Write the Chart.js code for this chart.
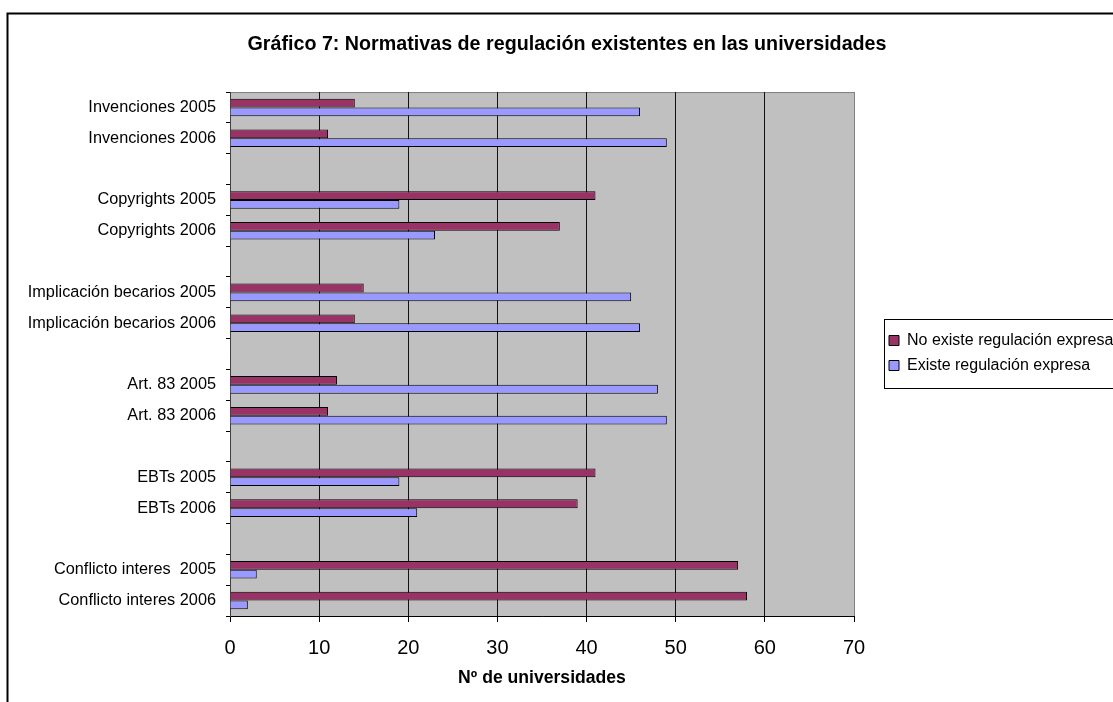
<!DOCTYPE html>
<html>
<head>
<meta charset="utf-8">
<script src="https://cdn.jsdelivr.net/npm/chart.js@4.4.1/dist/chart.umd.min.js"></script>
<style>
    html, body { margin: 0; padding: 0; background: #fff; overflow: hidden; }
    #wrap { position: relative; width: 1134px; height: 702px; }
    canvas { display: block; }
</style>
</head>
<body>
<div id="wrap"><canvas id="normChart" width="1134" height="702"></canvas></div>
<script>
// categories, top to bottom ('' = empty gap row between groups)
var categories = [
    'Invenciones 2005', 'Invenciones 2006', '',
    'Copyrights 2005', 'Copyrights 2006', '',
    'Implicación becarios 2005', 'Implicación becarios 2006', '',
    'Art. 83 2005', 'Art. 83 2006', '',
    'EBTs 2005', 'EBTs 2006', '',
    'Conflicto interes  2005', 'Conflicto interes 2006'
];
var noExisteArr = [14, 11, null, 41, 37, null, 15, 14, null, 12, 11, null, 41, 39, null, 57, 58];
var existeArr   = [46, 49, null, 19, 23, null, 45, 46, null, 48, 49, null, 19, 21, null, 3, 2];
var xTicks = [0, 10, 20, 30, 40, 50, 60, 70];

var FONT = "'Liberation Sans', Arial, sans-serif";

var framePlugin = {
    id: 'frame',
    beforeDraw: function(chart) {
        var ctx = chart.ctx;
        var a = chart.chartArea;
        ctx.save();
        ctx.fillStyle = '#fff';
        ctx.fillRect(0, 0, chart.width, chart.height);
        // outer chart border
        ctx.strokeStyle = '#000';
        ctx.lineWidth = 2;
        ctx.strokeRect(7.5, 13.5, chart.width + 20, chart.height + 20);
        // plot area
        ctx.fillStyle = '#c0c0c0';
        ctx.fillRect(a.left, a.top, a.right - a.left, a.bottom - a.top);
        ctx.strokeStyle = '#808080';
        ctx.lineWidth = 1;
        ctx.strokeRect(a.left + 0.5, a.top + 0.5, a.right - a.left, a.bottom - a.top);
        ctx.restore();
    },
    afterLayout: function(chart) {
        // title centred over the whole chart, legend placed right of the plot
        chart.titleBlock.left = 0;
        chart.titleBlock.right = 1134;
        var lg = chart.legend;
        var w = lg.width, h = lg.height;
        lg.left = 880;
        lg.right = 880 + w;
        lg.top = 323.5;
        lg.bottom = 323.5 + h;
    },
    afterDraw: function(chart) {
        var hb = chart.legend.legendHitBoxes;
        if (!hb || !hb.length) return;
        var ctx = chart.ctx;
        ctx.save();
        ctx.strokeStyle = '#000';
        ctx.lineWidth = 1;
        var top = hb[0].top - 13.5, bottom = hb[hb.length - 1].top + hb[hb.length - 1].height + 14.5;
        ctx.strokeRect(Math.round(hb[0].left - 5) + 0.5, Math.round(top) + 0.5, 300, Math.round(bottom - top));
        ctx.restore();
    }
};

new Chart('normChart', {
    type: 'bar',
    data: {
        labels: categories,
        datasets: [{
            label: 'No existe regulación expresa',
            data: noExisteArr,
            backgroundColor: '#993366',
            borderColor: '#000',
            borderWidth: 1,
            categoryPercentage: 0.57,
            barPercentage: 1.0
        }, {
            label: 'Existe regulación expresa',
            data: existeArr,
            backgroundColor: '#9999ff',
            borderColor: '#000',
            borderWidth: 1,
            categoryPercentage: 0.57,
            barPercentage: 1.0
        }]
    },
    options: {
        indexAxis: 'y',
        responsive: false,
        animation: false,
        devicePixelRatio: 1,
        layout: {padding: {left: 0, right: 280, top: 0, bottom: 12.8}},
        scales: {
            x: {
                min: 0,
                max: 70,
                afterBuildTicks: function(scale) {
                    scale.ticks = xTicks.map(function(v) { return {value: v}; });
                },
                afterFit: function(scale) { scale.height = 73.2; },
                ticks: {
                    color: '#000',
                    padding: 14,
                    font: {family: FONT, size: 20, lineHeight: 1.2}
                },
                grid: {
                    color: function(c) { return c.tick && c.tick.value === 70 ? '#808080' : '#111'; },
                    tickColor: '#000',
                    tickLength: 6,
                    lineWidth: 1
                },
                border: {color: '#000', width: 1},
                title: {
                    display: true,
                    text: 'Nº de universidades',
                    color: '#000',
                    padding: {top: 0, bottom: 0},
                    font: {family: FONT, size: 17.6, weight: 'bold', lineHeight: 1.2}
                }
            },
            y: {
                afterFit: function(scale) { scale.width = 230; },
                ticks: {
                    color: '#000',
                    padding: 10,
                    autoSkip: false,
                    font: {family: FONT, size: 16.3}
                },
                grid: {
                    offset: true,
                    drawOnChartArea: false,
                    tickColor: '#000',
                    tickLength: 4
                },
                border: {color: '#404040', width: 1}
            }
        },
        plugins: {
            title: {
                display: true,
                text: 'Gráfico 7: Normativas de regulación existentes en las universidades',
                color: '#000',
                padding: {top: 33.2, bottom: 35.2},
                font: {family: FONT, size: 19.7, weight: 'bold', lineHeight: 1.2}
            },
            legend: {
                position: 'chartArea',
                align: 'start',
                labels: {
                    color: '#000',
                    boxWidth: 10,
                    boxHeight: 10,
                    padding: 9,
                    font: {family: FONT, size: 16}
                }
            },
            tooltip: {enabled: false}
        }
    },
    plugins: [framePlugin]
});
</script>
</body>
</html>
